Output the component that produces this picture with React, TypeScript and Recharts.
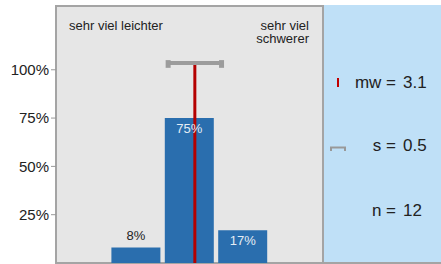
import React from 'react'
import { ComposedChart, Bar, XAxis, YAxis, CartesianGrid, ReferenceLine, LabelList } from 'recharts'

// answer scale 1..5, share of answers in %
const scalePoints = [1, 2, 3, 4, 5]
const shares = [0, 8, 75, 17, 0]
const scaleEnds = ['sehr viel leichter', 'sehr viel schwerer']
const yTicks = [25, 50, 75, 100]
const mean = 3.1
const sd = 0.5
const count = 12

const data = scalePoints.map((p, i) => ({ x: p, share: shares[i] }))

const font = '"Liberation Sans", Arial, Helvetica, sans-serif'
const border = '#a4a4a4'

const BarLabel = (props: any) => {
  const { x, y, width, value } = props
  if (!value) return null
  const inside = value >= 15
  return (
    <text
      x={Number(x) + Number(width) / 2}
      y={inside ? Number(y) + 10 : Number(y) - 12}
      textAnchor='middle'
      dominantBaseline='central'
      fontSize={13}
      fontFamily={font}
      fill={inside ? '#e4ecf4' : '#222'}
    >
      {value}%
    </text>
  )
}

const StatRow = ({ top, label, value, icon }: any) => (
  <div style={{ position: 'absolute', top, left: 0, width: 441, height: 20 }}>
    {icon}
    <div style={{ position: 'absolute', right: 45, lineHeight: '20px', textAlign: 'right', whiteSpace: 'pre' }}>{label}</div>
    <div style={{ position: 'absolute', left: 403, lineHeight: '20px' }}>{value}</div>
  </div>
)

export default function App() {
  return (
    <div style={{ position: 'absolute', left: 0, top: 0, width: 441, height: 264, fontFamily: font, color: '#222' }}>
      {/* gray chart panel */}
      <div
        style={{
          position: 'absolute', left: 55, top: 5, width: 269, height: 259,
          boxSizing: 'border-box', border: `2px solid ${border}`, background: '#e6e6e6'
        }}
      />
      {/* blue stats panel */}
      <div
        style={{
          position: 'absolute', left: 324, top: 5, width: 117, height: 259,
          boxSizing: 'border-box', borderBottom: `2px solid ${border}`, background: '#bfe0f7'
        }}
      />
      <div style={{ position: 'absolute', left: 69, top: 19, fontSize: 13, lineHeight: '13px' }}>{scaleEnds[0]}</div>
      <div style={{ position: 'absolute', right: 132, top: 19, width: 80, fontSize: 13, lineHeight: '13px', textAlign: 'right' }}>
        {scaleEnds[1]}
      </div>

      <div style={{ position: 'absolute', left: 0, top: 0 }}>
        <ComposedChart width={323} height={264} data={data} margin={{ top: 6, right: 0, bottom: 1, left: 0 }}>
          <CartesianGrid horizontal={false} vertical={false} />
          <XAxis dataKey='x' type='number' domain={[0.5, 5.5]} hide />
          <YAxis
            width={56}
            domain={[0, 133]}
            ticks={yTicks}
            interval={0}
            axisLine={false}
            tickSize={5}
            tickLine={{ stroke: '#999' }}
            tickFormatter={(v: number) => `${v}%`}
            tick={{ fontSize: 15, fill: '#222', fontFamily: font }}
          />
          <Bar dataKey='share' fill='#2a6eae' barSize={49} isAnimationActive={false}>
            <LabelList dataKey='share' content={BarLabel} />
          </Bar>
          <ReferenceLine
            segment={[{ x: mean, y: 0 }, { x: mean, y: 102.5 }]}
            stroke='#b40000'
            strokeWidth={3}
          />
          <ReferenceLine
            segment={[{ x: mean - sd, y: 103.5 }, { x: mean + sd, y: 103.5 }]}
            stroke='#9c9c9c'
            strokeWidth={4}
          />
          <ReferenceLine
            segment={[{ x: mean - sd, y: 105 }, { x: mean - sd, y: 101 }]}
            stroke='#9c9c9c'
            strokeWidth={5}
          />
          <ReferenceLine
            segment={[{ x: mean + sd, y: 105 }, { x: mean + sd, y: 101 }]}
            stroke='#9c9c9c'
            strokeWidth={5}
          />
        </ComposedChart>
      </div>

      <div style={{ fontSize: 17 }}>
        <StatRow
          top={73}
          label='mw ='
          value={mean.toFixed(1)}
          icon={<div style={{ position: 'absolute', left: 337, top: 5, width: 2, height: 9, background: '#c00000' }} />}
        />
        <StatRow
          top={136}
          label='s ='
          value={sd.toFixed(1)}
          icon={
            <svg style={{ position: 'absolute', left: 330, top: 10 }} width={16} height={6}>
              <path d='M1 5 V1.5 H15 V5' stroke='#999' strokeWidth={2} fill='none' />
            </svg>
          }
        />
        <StatRow top={201} label='n =' value={String(count)} />
      </div>
    </div>
  )
}
